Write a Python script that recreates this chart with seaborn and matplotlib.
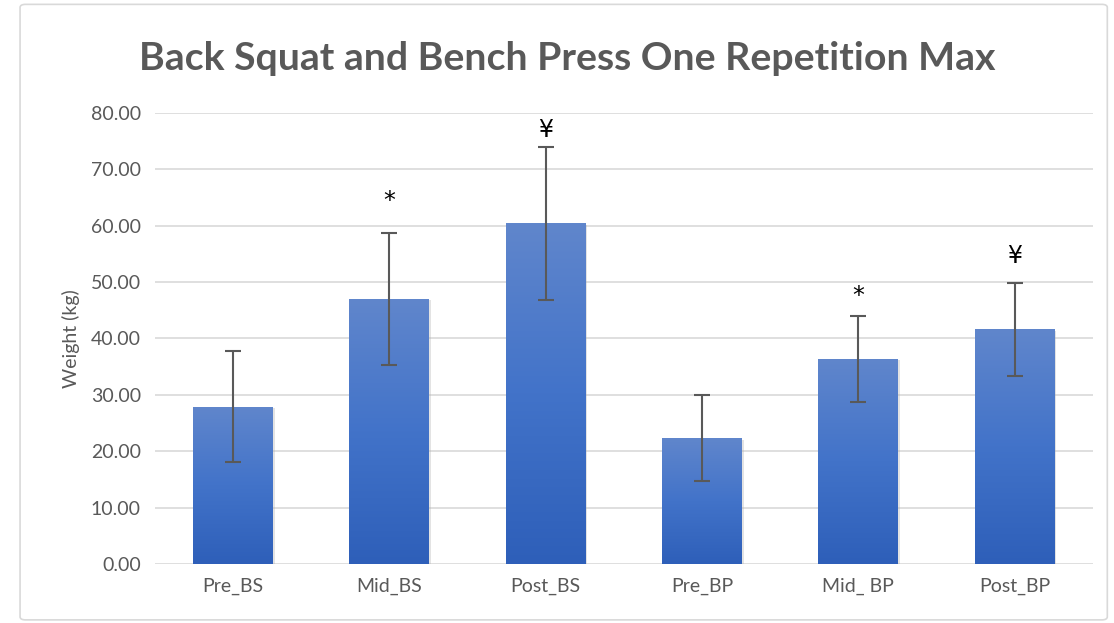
import numpy as np
import pandas as pd
import seaborn as sns
import matplotlib.pyplot as plt
from matplotlib.patches import FancyBboxPatch
from matplotlib.colors import LinearSegmentedColormap

groups = ["Pre_BS", "Mid_BS", "Post_BS", "Pre_BP", "Mid_ BP", "Post_BP"]
means = [27.9, 47.0, 60.4, 22.3, 36.4, 41.6]
sds = [9.85, 11.65, 13.5, 7.65, 7.65, 8.25]
marks = ["", "*", "¥", "", "*", "¥"]
mark_y = [0, 64.3, 76.9, 0, 47.5, 54.7]

df = pd.DataFrame({"group": groups, "weight": means})

sns.set_style("white")
plt.rcParams["font.family"] = ["Lato", "DejaVu Sans"]

fig = plt.figure(figsize=(11.14, 6.23), dpi=100)
ax = fig.add_axes([0.139, 0.0947, 0.842, 0.724])

grey = "#595959"
sns.barplot(data=df, x="group", y="weight", color="#4472C4", width=0.51, ax=ax, zorder=2)

# gradient fill on each bar
grad = np.linspace(0, 1, 256).reshape(-1, 1)
cmap = LinearSegmentedColormap.from_list("bar", ["#2E5FB9", "#4273C9", "#6086CC"])
for p in ax.patches:
    x0, y0 = p.get_x(), p.get_y()
    w, h = p.get_width(), p.get_height()
    # soft shadow
    ax.add_patch(plt.Rectangle((x0 + 0.012, y0), w, h - 0.25, color="#b0b0b0", alpha=0.35, zorder=1.5, lw=0))
    im = ax.imshow(grad, extent=[x0, x0 + w, y0, y0 + h], origin="lower", cmap=cmap,
                   aspect="auto", zorder=2.5)
    im.set_clip_path(p)
    p.set_alpha(0)

ax.errorbar(range(len(groups)), means, yerr=sds, fmt="none", ecolor=grey, elinewidth=1.5,
            capsize=6, capthick=1.5, zorder=3)

for i, (m, yv) in enumerate(zip(marks, mark_y)):
    if m:
        ax.text(i, yv, m, ha="center", va="center", fontsize=17, color="black",
                family=["DejaVu Sans"])

ax.set_xlim(-0.5, len(groups) - 0.5)
ax.set_ylim(0, 80)
ax.set_yticks(np.arange(0, 81, 10))
ax.set_yticklabels([f"{v:.2f}" for v in np.arange(0, 81, 10)])
ax.yaxis.grid(True, color="#d9d9d9", lw=1.2, zorder=0)
ax.set_axisbelow(True)
for s in ax.spines.values():
    s.set_visible(False)
ax.tick_params(axis="both", length=0, labelsize=14, colors=grey, pad=10)
ax.set_xlabel("")
ax.set_ylabel("Weight (kg)", fontsize=14, color=grey, labelpad=8)

fig.text(0.509, 0.906, "Back Squat and Bench Press One Repetition Max", ha="center", va="center",
         fontsize=28.3, fontweight="bold", color=grey)

border = FancyBboxPatch((0.018, 0.005), 0.976, 0.988, boxstyle="round,pad=0,rounding_size=0.005",
                        transform=fig.transFigure, fill=False, ec="#d9d9d9", lw=1.2)
fig.patches.append(border)

fig.savefig("out.png", dpi=100)
